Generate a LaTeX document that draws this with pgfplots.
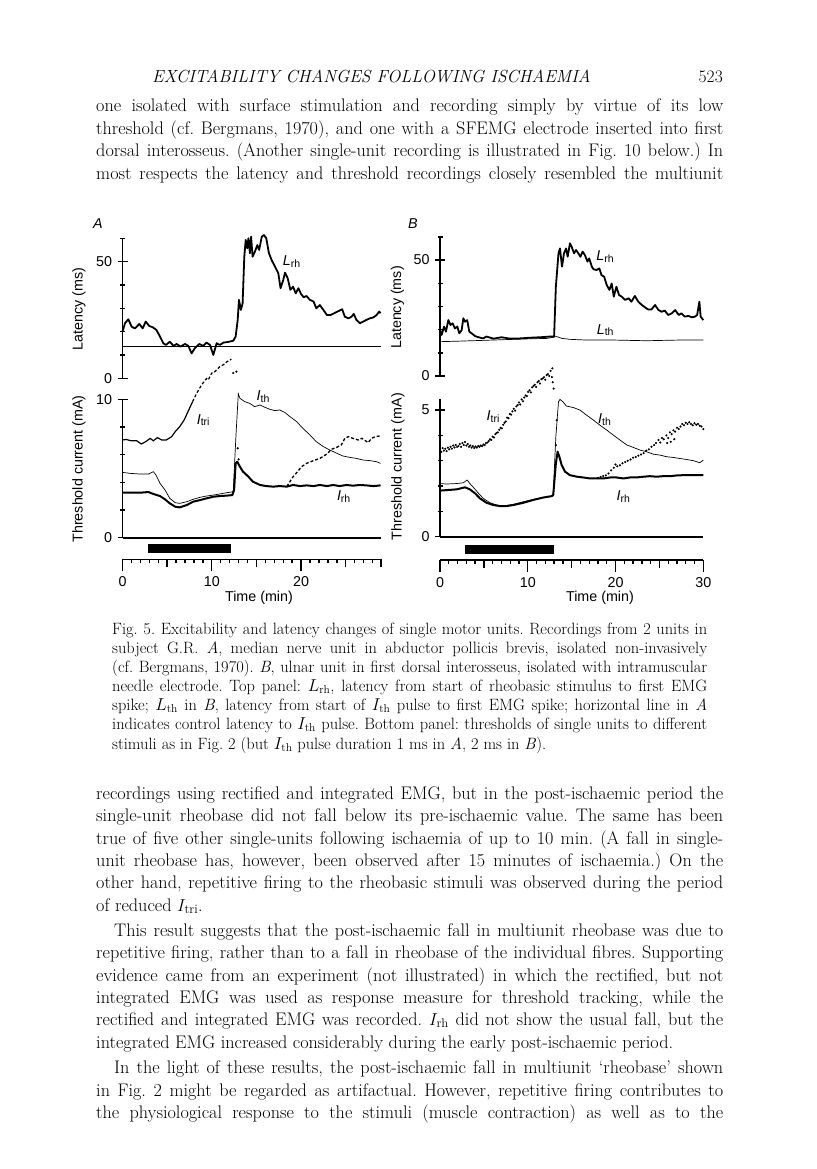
\documentclass[border=0pt]{standalone}
\usepackage{fontspec}
\usepackage{pgfplots}
\pgfplotsset{compat=1.18}
\newfontfamily\hv{Liberation Sans}
\newcommand{\figfont}{\hv\fontsize{14.3}{15}\selectfont}
\newcommand{\subfont}{\hv\fontsize{10.5}{11}\selectfont}
\newcommand{\bodyfont}{\fontsize{18.2}{22}\selectfont\frenchspacing}
\newcommand{\capfont}{\fontsize{16.4}{19}\selectfont\frenchspacing}
\newcommand{\cv}[2]{{\figfont\itshape #1}\raisebox{-0.35ex}{\subfont #2}}
\newcommand{\BL}[2]{\node[anchor=base west,inner sep=0pt,font=\bodyfont] at (96pt,-#1pt) {\makebox[627pt][s]{#2}};}
\newcommand{\BE}[2]{\node[anchor=base west,inner sep=0pt,font=\bodyfont] at (96pt,-#1pt) {#2};}
\newcommand{\BI}[2]{\node[anchor=base west,inner sep=0pt,font=\bodyfont] at (114pt,-#1pt) {\makebox[609pt][s]{#2}};}
\newcommand{\CL}[2]{\node[anchor=base west,inner sep=0pt,font=\capfont] at (112pt,-#1pt) {\makebox[595pt][s]{#2}};}
\newcommand{\CE}[2]{\node[anchor=base west,inner sep=0pt,font=\capfont] at (112pt,-#1pt) {#2};}
\pgfplotsset{
 noarrows/.style={axis line style={-},
   every outer x axis line/.append style={-},
   every outer y axis line/.append style={-},
   every inner x axis line/.append style={-},
   every inner y axis line/.append style={-},
   x axis line style={-}, y axis line style={-}},
 base/.style={scale only axis, clip=false,
   axis line style={line width=1.6pt},
   tick style={line width=1.4pt, black},
   tick align=outside,
   major tick length=10pt, minor tick length=5pt,
   /pgf/number format/assume math mode=true,
   ticklabel style={font=\figfont},
   yticklabel style={xshift=-2pt},
   xtick=\empty,
   axis y line=left,
 },
 toppanel/.style={base, axis x line=none, ymin=0, ymax=60, ytick={0,50}, minor ytick={10,20,30,40,60}},
 timeaxis/.style={scale only axis, clip=false, ymin=0, ymax=1, height=10.6pt,
   axis x line=bottom, axis y line=none,
   axis line style={line width=1.6pt},
   tick align=outside, tick style={line width=1.4pt,black},
   xtick={0,10,20,30}, minor xtick={0,1,...,30},
   major tick length=12pt, minor tick length=4pt,
   extra x tick labels={}, extra x tick style={major tick length=8pt},
   /pgf/number format/assume math mode=true,
   ticklabel style={font=\figfont},
   xticklabel style={yshift=-2pt}},
}
\begin{document}
\begin{tikzpicture}
\useasboundingbox (0,0) rectangle (816pt,-1169pt);
% ---------- header and first paragraph
\node[anchor=base west, inner sep=0pt, font=\fontsize{17.5}{20}\selectfont\itshape\addfontfeature{LetterSpace=7}] at (152pt,-83pt) {EXCITABILITY CHANGES FOLLOWING ISCHAEMIA};
\node[anchor=base east, inner sep=0pt, font=\fontsize{17.5}{20}\selectfont] at (723pt,-83pt) {523};
\BL{112}{one isolated with surface stimulation and recording simply by virtue of its low}
\BL{135}{threshold (cf. Bergmans, 1970), and one with a SFEMG electrode inserted into first}
\BL{157}{dorsal interosseus. (Another single-unit recording is illustrated in Fig. 10 below.) In}
\BL{179}{most respects the latency and threshold recordings closely resembled the multiunit}

% ---------- figure labels
\node[font=\figfont\itshape] at (98pt,-224pt) {A};
\node[font=\figfont\itshape] at (413pt,-224pt) {B};
\node[rotate=90, font=\figfont] at (79pt,-309pt) {Latency (ms)};
\node[rotate=90, font=\figfont] at (79pt,-469pt) {Threshold current (mA)};
\node[rotate=90, font=\figfont] at (397.5pt,-307.5pt) {Latency (ms)};
\node[rotate=90, font=\figfont] at (398pt,-466.7pt) {Threshold current (mA)};
\node[font=\figfont] at (259pt,-598pt) {Time (min)};
\node[font=\figfont] at (600pt,-598pt) {Time (min)};

% ---------- panel A top
\begin{axis}[toppanel, at={(122.5pt,-378.3pt)}, anchor=south west, width=258.5pt, height=140pt, xmin=0, xmax=28.95, noarrows]
\addplot[black, line width=0.7pt] coordinates {(0,13.9) (28.95,13.9)};
\addplot[black, line width=1.8pt, line join=round] coordinates {
(0,20) (0.28,23.6) (0.65,25.3) (1.03,22.1) (1.4,21.4) (1.88,23.3) (2.26,21.4) (2.6,24.3) (3.0,22.4) (3.38,21.9) (3.8,20.7) (4.2,17.9) (4.57,15) (4.87,14.3) (5.3,15.7) (5.7,13.9) (6.06,14.7) (6.5,13.6) (7.0,14.7) (7.37,13.9) (7.74,10.7) (8.1,12.9) (8.6,14.7) (9.05,13.9) (9.4,15.3) (9.8,14.3) (10.17,10) (10.54,15) (10.9,14.3) (11.3,15.3) (11.85,15.6) (12.4,16.1) (12.67,17.9) (12.9,25) (13.04,33.6) (13.26,29.3) (13.45,32.1) (13.64,52.1) (13.8,59.3) (13.97,55.7) (14.1,60) (14.27,53.6) (14.4,60.7) (14.57,52.1) (14.83,54.3) (15.1,57.1) (15.3,55) (15.6,60.7) (15.84,61.4) (16.1,60) (16.4,53.6) (16.7,50.7) (17.07,47.9) (17.45,45) (17.7,38.6) (18.0,42.1) (18.2,45.3) (18.5,42.9) (18.8,37.9) (19.1,39.3) (19.4,36.4) (19.7,38.6) (20.0,36.1) (20.3,34.7) (20.6,35.3) (21.0,33.6) (21.4,32.9) (21.7,30) (22.1,31.4) (22.5,29.3) (22.9,27.1) (23.3,27.1) (23.8,28.1) (24.3,29) (24.6,29.6) (24.9,26.4) (25.3,25.7) (25.65,26.4) (25.9,27.6) (26.2,25) (26.6,23.6) (26.96,24.3) (27.3,25) (27.7,25.7) (28.1,26.1) (28.45,27.1) (28.75,28.6) (28.9,27.9)};
\node[anchor=west, inner sep=0pt] at (axis cs:17.95,50) {\cv{L}{rh}};
\end{axis}

% ---------- panel A bottom
\begin{axis}[base, at={(122.5pt,-537.7pt)}, anchor=south west, width=258.5pt, height=138.4pt, xmin=0, xmax=28.95, ymin=0, ymax=10, axis x line=bottom, ytick={0,10}, minor ytick={2,4,6,8}, noarrows]
% I_tri
\addplot[black, line width=1.2pt] coordinates {(0,7.06) (0.4,7.1) (1.0,7.0) (1.6,7.0) (2.1,6.77) (2.6,6.94) (3.1,7.18) (3.45,7.0) (3.9,7.23) (4.4,7.06) (4.9,7.06) (5.5,7.3) (5.9,7.66) (6.4,8.02) (6.9,8.5) (7.4,9.2) (7.85,9.83)};
\addplot[black, line width=1.2pt, densely dashed] coordinates {(7.85,9.83) (8.3,10.43) (8.86,11.04) (9.4,11.5) (9.6,11.4) (10.0,11.9) (10.2,11.9) (10.9,12.36) (11.3,12.5) (11.66,12.7) (12.2,12.9)};
\addplot[black, only marks, mark=*, mark size=0.9pt] coordinates {(12.4,11.9) (12.75,12.0) (12.9,6.46) (13.0,5.66)};
\addplot[black, line width=1.3pt, densely dashed] coordinates {(18.4,3.7) (18.75,4.05) (19.1,4.4) (19.6,4.77) (20.05,5.13) (20.6,5.37) (21.4,5.57) (22.1,5.73) (22.9,6.05) (23.4,6.39) (24.0,6.53) (24.5,6.7) (24.9,7.18) (25.3,7.3) (25.8,7.18) (26.4,7.06) (26.8,7.18) (27.1,7.06) (27.5,6.87) (27.9,7.18) (28.3,7.3) (28.8,7.35)};
% I_th
\addplot[black, line width=0.7pt] coordinates {(0,4.72) (0.84,4.65) (1.96,4.6) (2.9,4.6) (3.45,4.77) (3.75,4.53) (4.2,3.93) (4.76,3.45) (5.3,2.84) (5.9,2.53) (6.4,2.48) (7.2,2.6) (7.9,2.77) (8.7,2.92) (9.4,3.01) (10.17,3.08) (10.9,3.16) (11.66,3.25) (12.2,3.3) (12.4,3.33) (12.7,7.3) (12.97,10.4) (13.15,10.07) (13.7,9.83) (14.27,9.7) (14.8,9.47) (15.4,9.59) (15.95,9.42) (16.5,9.28) (17.07,9.18) (17.6,9.23) (18.2,9.04) (18.75,8.75) (19.5,8.39) (20.2,7.9) (21.0,7.42) (21.7,6.94) (22.5,6.58) (23.2,6.34) (24.0,6.1) (24.7,5.9) (25.5,5.8) (26.2,5.73) (26.96,5.61) (27.7,5.57) (28.45,5.49) (28.9,5.37)};
% I_rh
\addplot[black, line width=2pt, line join=round] coordinates {(0,3.25) (0.8,3.25) (1.96,3.25) (2.9,3.3) (3.45,3.16) (4.2,3.01) (4.76,2.77) (5.3,2.48) (5.9,2.24) (6.4,2.19) (7.2,2.36) (7.9,2.6) (8.7,2.72) (9.4,2.84) (10.17,2.96) (10.9,3.01) (11.66,3.04) (12.3,3.08) (12.5,3.45) (12.67,5.37) (12.85,5.49) (13.15,5.13) (13.5,4.77) (14.1,4.41) (14.6,4.05) (15.4,3.81) (16.1,3.73) (16.9,3.69) (17.6,3.73) (18.4,3.69) (19.1,3.81) (19.9,3.73) (20.6,3.78) (21.4,3.73) (22.1,3.81) (22.9,3.73) (23.6,3.81) (24.3,3.73) (25.1,3.81) (25.8,3.76) (26.6,3.81) (27.3,3.78) (28.1,3.73) (28.9,3.78)};
\node[anchor=west, inner sep=0pt] at (axis cs:15.0,10.2) {\cv{I}{th}};
\node[anchor=west, inner sep=0pt] at (axis cs:8.3,8.5) {\cv{I}{tri}};
\node[anchor=west, inner sep=0pt] at (axis cs:24.0,2.96) {\cv{I}{rh}};
\end{axis}

% ---------- panel A time axis
\begin{axis}[timeaxis, at={(122.5pt,-559.3pt)}, anchor=south west, width=258.5pt, xmin=0, xmax=28.95, extra x ticks={5,15,25,28.95}, noarrows]
\addplot[black, line width=9.3pt] coordinates {(2.9,1) (12.1,1)};
\end{axis}

% ---------- panel B top
\begin{axis}[toppanel, at={(440pt,-376pt)}, anchor=south west, width=263.3pt, height=139.2pt, xmin=0, xmax=30, noarrows]
\addplot[black, line width=0.7pt] coordinates {(0,14.8) (2,15.0) (6,15.5) (10,16.0) (12.15,16.2) (12.9,16.7) (13.3,17) (13.9,16.2) (14.8,15.8) (16.7,15.5) (19.75,15.5) (23.5,15.2) (27.3,15.5) (30,15.5)};
\addplot[black, line width=1.8pt, line join=round] coordinates {
(0,19.8) (0.19,17.7) (0.46,21.3) (0.68,19.1) (0.95,24.1) (1.2,22) (1.44,22.7) (1.7,20.5) (1.97,21.3) (2.2,18.4) (2.47,19.8) (2.66,24.9) (2.85,23.4) (3.1,24.1) (3.34,19.1) (3.6,18.4) (4.0,17.2) (4.4,16.7) (4.9,16.2) (5.3,17) (6.1,16.1) (7.0,16.7) (7.98,16.1) (9.1,16.2) (10.25,16.5) (11.4,16.7) (12.5,17) (13.0,17) (13.2,38.5) (13.5,52.9) (13.67,55) (13.9,47.1) (14.13,52.9) (14.36,55) (14.55,51.4) (14.8,57.2) (15.0,55.7) (15.27,52.9) (15.5,54.3) (15.76,52.9) (16.0,51.4) (16.25,53.6) (16.5,52.2) (16.8,49.3) (17.0,50.7) (17.3,47.1) (17.5,46) (17.85,45.7) (18.15,46.4) (18.4,43.5) (18.7,42.8) (19.0,39.2) (19.3,37.1) (19.56,39.9) (19.8,34.2) (20.1,38.5) (20.4,34.9) (20.7,34.2) (21.1,32.8) (21.5,33.5) (21.8,32) (22.2,34.5) (22.6,32) (23.0,30.6) (23.36,29.6) (23.7,28.7) (24.1,28.7) (24.5,30.6) (24.9,28.4) (25.26,27.7) (25.6,28.2) (26.0,26.3) (26.4,27) (26.8,28.4) (27.2,26.3) (27.5,27) (27.9,25.6) (28.3,25.9) (28.7,25.3) (29.05,25.6) (29.3,26.3) (29.55,32) (29.7,25.6) (30.0,24.1)};
\node[anchor=west, inner sep=0pt] at (axis cs:17.8,51.4) {\cv{L}{rh}};
\node[anchor=west, inner sep=0pt] at (axis cs:17.85,19.8) {\cv{L}{th}};
\end{axis}

% ---------- panel B bottom
\begin{axis}[base, at={(440pt,-536.7pt)}, anchor=south west, width=263.3pt, height=138pt, xmin=0, xmax=30, ymin=0, ymax=5.45, axis x line=bottom, ytick={0,5}, minor ytick={1,2,3,4}, noarrows]
% I_tri dots
\addplot[black, only marks, mark=*, mark size=0.85pt] coordinates {
(0,3.42) (0.15,3.35) (0.3,3.5) (0.45,3.4) (0.6,3.47) (0.75,3.38) (0.9,3.52) (1.05,3.45) (1.2,3.55) (1.35,3.48) (1.5,3.6) (1.65,3.52) (1.8,3.62) (1.95,3.55) (2.1,3.58) (2.25,3.66) (2.4,3.55) (2.55,3.7) (2.7,3.62) (2.85,3.74) (3.0,3.6) (3.15,3.66) (3.3,3.55) (3.45,3.6) (3.6,3.52) (3.75,3.58) (3.9,3.5) (4.05,3.56) (4.2,3.52) (4.35,3.58) (4.5,3.55) (4.65,3.6) (4.8,3.58) (4.95,3.64) (5.1,3.62) (5.25,3.7) (5.4,3.72) (5.55,3.78) (5.7,3.85) (5.85,3.82) (6.0,3.95) (6.15,3.92) (6.3,4.05) (6.45,4.1) (6.6,4.12) (6.75,4.22) (6.9,4.3) (7.05,4.28) (7.2,4.42) (7.35,4.5) (7.5,4.55) (7.65,4.7) (7.8,4.68) (7.95,4.85) (8.1,4.82) (8.25,4.95) (8.4,5.05) (8.55,4.98) (8.7,5.15) (8.85,5.2) (9.0,5.3) (9.15,5.22) (9.3,5.42) (9.45,5.35) (9.6,5.5) (9.75,5.58) (9.9,5.55) (10.05,5.72) (10.2,5.78) (10.35,5.7) (10.5,5.9) (10.65,5.95) (10.8,6.0) (10.95,5.92) (11.1,6.1) (11.25,6.15) (11.4,6.05) (11.55,6.22) (11.7,6.25) (11.85,6.3) (12.0,6.2) (12.15,6.38) (12.3,6.42) (12.45,6.35) (12.6,6.55) (12.8,6.65) (12.75,6.3) (12.85,6.1) (12.95,5.85) (13.3,4.6) (13.2,3.62)
(18.0,2.32) (18.3,2.36) (18.6,2.4) (18.9,2.42) (19.2,2.5) (19.5,2.62) (19.8,2.72) (20.0,2.85) (20.2,2.78) (20.5,2.82) (20.8,2.9) (21.1,2.95) (21.4,3.0) (21.7,3.05) (22.0,3.12) (22.3,3.15) (22.6,3.2) (22.9,3.25) (23.2,3.3) (23.5,3.4) (23.8,3.45) (24.1,3.55) (24.4,3.62) (24.6,3.7) (24.9,3.82) (25.1,3.72) (25.3,3.9) (25.5,3.85) (25.8,4.0) (25.9,3.7) (26.0,3.9) (26.2,4.12) (26.3,3.75) (26.4,4.05) (26.6,4.2) (26.7,3.85) (26.8,4.15) (27.0,4.3) (27.2,4.25) (27.4,4.35) (27.6,4.45) (27.8,4.4) (28.0,4.5) (28.2,4.45) (28.4,4.52) (28.6,4.45) (28.8,4.4) (29.0,4.48) (29.2,4.42) (29.4,4.45) (29.6,4.38) (29.8,4.35) (30.0,4.25)};
% I_th
\addplot[black, line width=0.7pt] coordinates {(0,2.1) (0.76,2.08) (1.9,2.1) (2.66,2.13) (3.1,2.24) (3.4,2.1) (3.8,1.95) (4.4,1.71) (4.94,1.51) (5.7,1.34) (6.46,1.25) (7.2,1.21) (8.36,1.28) (9.5,1.38) (10.6,1.47) (11.8,1.55) (12.7,1.6) (12.9,1.71) (13.2,3.95) (13.5,5.33) (13.67,5.42) (14.0,5.33) (14.4,5.16) (15.2,5.1) (15.95,5.0) (16.7,4.8) (17.5,4.6) (18.2,4.41) (19.0,4.21) (19.75,4.01) (20.5,3.82) (21.3,3.62) (22.0,3.53) (22.8,3.42) (23.5,3.36) (24.3,3.26) (25.1,3.22) (25.8,3.16) (26.6,3.13) (27.3,3.09) (28.1,3.05) (28.9,3.0) (29.6,2.92) (30.0,3.03)};
% I_rh
\addplot[black, line width=2pt, line join=round] coordinates {(0,1.82) (0.76,1.84) (1.9,1.87) (2.85,1.95) (3.4,1.87) (4.0,1.71) (4.56,1.51) (5.3,1.34) (6.1,1.25) (6.84,1.21) (7.6,1.21) (8.36,1.25) (9.5,1.34) (10.6,1.45) (11.8,1.55) (12.7,1.6) (12.9,1.64) (13.2,2.89) (13.4,3.36) (13.6,3.16) (13.86,2.83) (14.24,2.57) (14.8,2.43) (15.6,2.37) (16.3,2.34) (17.1,2.3) (17.85,2.3) (18.6,2.3) (19.4,2.34) (20.1,2.34) (20.9,2.3) (21.65,2.34) (22.4,2.34) (23.2,2.37) (23.9,2.39) (24.7,2.37) (25.4,2.39) (26.2,2.39) (27.0,2.42) (27.7,2.43) (28.5,2.43) (29.2,2.43) (30.0,2.43)};
\node[anchor=west, inner sep=0pt] at (axis cs:5.3,4.74) {\cv{I}{tri}};
\node[anchor=west, inner sep=0pt] at (axis cs:18.0,4.63) {\cv{I}{th}};
\node[anchor=west, inner sep=0pt] at (axis cs:20.1,1.58) {\cv{I}{rh}};
\end{axis}

% ---------- panel B time axis
\begin{axis}[timeaxis, at={(440pt,-560pt)}, anchor=south west, width=263.3pt, xmin=0, xmax=30, extra x ticks={5,15,25}, noarrows]
\addplot[black, line width=9.3pt] coordinates {(2.9,1) (13.0,1)};
\end{axis}

% ---------- caption
\CL{634}{Fig. 5. Excitability and latency changes of single motor units. Recordings from 2 units in}
\CL{653}{subject G.R. \textit{A}, median nerve unit in abductor pollicis brevis, isolated non-invasively}
\CL{672}{(cf. Bergmans, 1970). \textit{B}, ulnar unit in first dorsal interosseus, isolated with intramuscular}
\CL{691}{needle electrode. Top panel: $L_{\rm rh}$, latency from start of rheobasic stimulus to first EMG}
\CL{710}{spike; $L_{\rm th}$ in \textit{B}, latency from start of $I_{\rm th}$ pulse to first EMG spike; horizontal line in \textit{A}}
\CL{729}{indicates control latency to $I_{\rm th}$ pulse. Bottom panel: thresholds of single units to different}
\CE{749}{stimuli as in Fig. 2 (but $I_{\rm th}$ pulse duration 1 ms in \textit{A}, 2 ms in \textit{B}).}

% ---------- body text
\BL{799}{recordings using rectified and integrated EMG, but in the post-ischaemic period the}
\BL{821}{single-unit rheobase did not fall below its pre-ischaemic value. The same has been}
\BL{844}{true of five other single-units following ischaemia of up to 10 min. (A fall in single-}
\BL{866}{unit rheobase has, however, been observed after 15 minutes of ischaemia.) On the}
\BL{888}{other hand, repetitive firing to the rheobasic stimuli was observed during the period}
\BE{911}{of reduced $I_{\rm tri}$.}
\BI{936}{This result suggests that the post-ischaemic fall in multiunit rheobase was due to}
\BL{958}{repetitive firing, rather than to a fall in rheobase of the individual fibres. Supporting}
\BL{981}{evidence came from an experiment (not illustrated) in which the rectified, but not}
\BL{1003}{integrated EMG was used as response measure for threshold tracking, while the}
\BL{1025}{rectified and integrated EMG was recorded. $I_{\rm rh}$ did not show the usual fall, but the}
\BE{1048}{integrated EMG increased considerably during the early post-ischaemic period.}
\BI{1073}{In the light of these results, the post-ischaemic fall in multiunit `rheobase' shown}
\BL{1096}{in Fig. 2 might be regarded as artifactual. However, repetitive firing contributes to}
\BL{1118}{the physiological response to the stimuli (muscle contraction) as well as to the}
\end{tikzpicture}
\end{document}
